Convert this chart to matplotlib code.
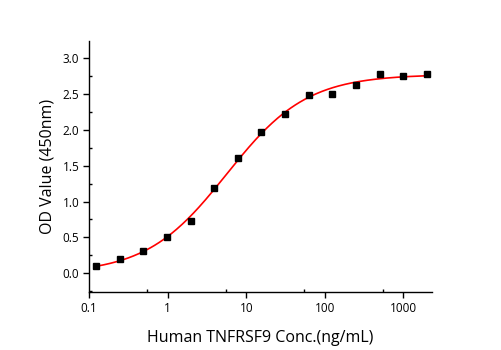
import numpy as np
import matplotlib.pyplot as plt
from matplotlib.ticker import FixedLocator, NullFormatter

conc = [0.122, 0.244, 0.488, 0.977, 1.95, 3.91, 7.81, 15.6, 31.25, 62.5,
        125, 250, 500, 1000, 2000]
od = [0.098, 0.195, 0.31, 0.50, 0.73, 1.19, 1.61, 1.975, 2.22, 2.48,
      2.50, 2.62, 2.775, 2.75, 2.785]
xticks = [0.1, 1, 10, 100, 1000]
xlabels = ["0.1", "1", "10", "100", "1000"]
yticks = [0.0, 0.5, 1.0, 1.5, 2.0, 2.5, 3.0]


def fit_4pl(x, y):
    # grid search over ec50 / hill, bottom and top solved by least squares
    x = np.asarray(x)
    y = np.asarray(y)
    best = None
    for lec in np.linspace(-0.5, 2.0, 251):
        for h in np.linspace(0.5, 2.5, 201):
            s = 1.0 / (1.0 + (10 ** lec / x) ** h)
            A = np.column_stack([1 - s, s])
            coef, *_ = np.linalg.lstsq(A, y, rcond=None)
            err = np.sum((A @ coef - y) ** 2)
            if best is None or err < best[0]:
                best = (err, coef[0], coef[1], 10 ** lec, h)
    return best[1:]


bottom, top, ec50, hill = fit_4pl(conc, od)
xs = np.logspace(np.log10(conc[0]), np.log10(conc[-1]), 300)
ys = bottom + (top - bottom) / (1 + (ec50 / xs) ** hill)

plt.rcParams['font.family'] = ['Open Sans', 'DejaVu Sans']
fig = plt.figure(figsize=(5.01, 3.5), dpi=100)
ax = fig.add_axes([0.178, 0.166, 0.684, 0.717])

ax.plot(xs, ys, color="red", lw=1.2, zorder=2)
ax.plot(conc, od, "s", color="black", ms=4.5, zorder=3)

ax.set_xscale("log")
ax.set_xlim(0.1, 2300)
ax.set_ylim(-0.26, 3.24)
ax.xaxis.set_major_locator(FixedLocator(xticks))
ax.set_xticklabels(xlabels)
ax.xaxis.set_minor_locator(FixedLocator([0.55, 5.5, 55, 550]))
ax.xaxis.set_minor_formatter(NullFormatter())
ax.set_yticks(yticks)
ax.set_yticklabels([f"{v:.1f}" for v in yticks])
ax.yaxis.set_minor_locator(FixedLocator(np.arange(-0.25, 3.3, 0.25)))

for s in ["top", "right"]:
    ax.spines[s].set_visible(False)
for s in ["left", "bottom"]:
    ax.spines[s].set_linewidth(1.0)
ax.tick_params(which="major", direction="out", length=4, width=1, labelsize=8.5, pad=3)
ax.tick_params(which="minor", direction="in", length=2.5, width=1)

ax.set_xlabel("Human TNFRSF9 Conc.(ng/mL)", fontsize=11.5, labelpad=11)
ax.set_ylabel("OD Value (450nm)", fontsize=11.5, labelpad=5)

fig.savefig("out.png", dpi=100)
